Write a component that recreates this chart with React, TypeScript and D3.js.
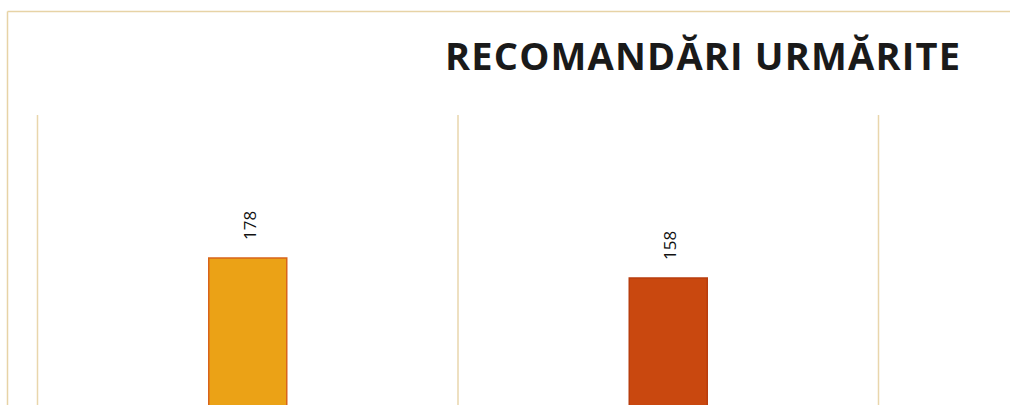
import React from "react";
import * as d3 from "d3";

const categories = ["Implementate", "Parțial implementate"];
const values = [178, 158];
const barColors = ["#EBA216", "#C9480F"];
const barStrokes = ["#D8641A", "#B83D0E"];
const title = "RECOMANDĂRI URMĂRITE";

export default function App() {
  const W = 1010;
  const H = 405;
  const x = d3.scaleBand<string>().domain(categories).range([37.5, 878.5]).padding(0);
  const y = d3.scaleLinear().domain([0, 200]).range([436, 236]);
  const barW = 78;
  const edges = [...categories.map((c) => x(c) as number), (x(categories[categories.length - 1]) as number) + x.bandwidth()];

  return (
    <svg
      width={W}
      height={H}
      style={{ position: "absolute", left: 0, top: 0, background: "#fff" }}
    >
      <rect x={0} y={0} width={W} height={H} fill="#ffffff" />
      {/* frame */}
      <line x1={7.5} x2={W} y1={11.5} y2={11.5} stroke="#E7D3A6" strokeWidth={1.5} />
      <line x1={7.5} x2={7.5} y1={11.5} y2={H} stroke="#E7D3A6" strokeWidth={1.5} />
      {/* gridlines */}
      {edges.map((e, i) => (
        <line key={i} x1={e} x2={e} y1={115} y2={H} stroke="#E9D6AC" strokeWidth={1.5} />
      ))}
      {/* bars */}
      {categories.map((c, i) => {
        const cx = (x(c) as number) + x.bandwidth() / 2;
        return (
          <g key={c}>
            <rect
              x={cx - barW / 2}
              y={y(values[i])}
              width={barW}
              height={y(0) - y(values[i])}
              fill={barColors[i]}
              stroke={barStrokes[i]}
              strokeWidth={1.5}
            />
            <text
              transform={`translate(${cx + 8},${y(values[i]) - 18}) rotate(-90)`}
              fontFamily="'Open Sans', sans-serif"
              fontSize={17}
              fill="#111"
              textAnchor="start"
            >
              {values[i]}
            </text>
          </g>
        );
      })}
      <text
        x={445}
        y={70}
        fontFamily="'Open Sans', sans-serif"
        fontWeight="bold"
        fontSize={38}
        fill="#1a1a1a"
        textLength={515}
        lengthAdjust="spacing"
      >
        {title}
      </text>
    </svg>
  );
}
